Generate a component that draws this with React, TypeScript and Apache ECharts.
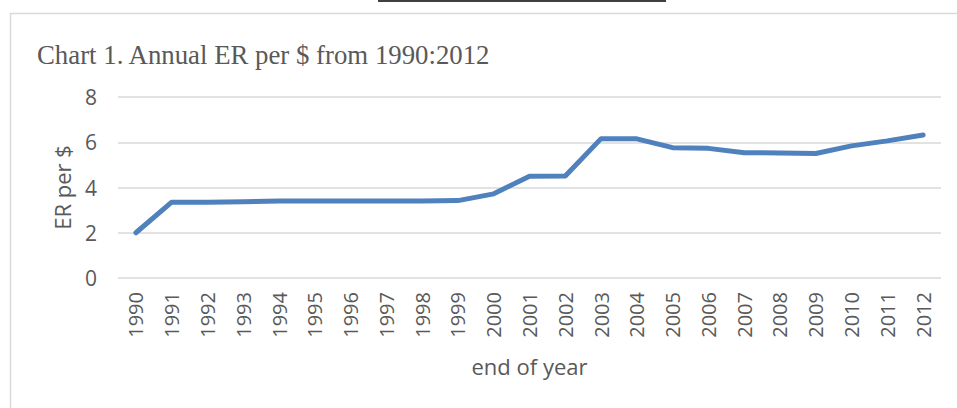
import React, { useEffect, useRef } from "react";
import * as echarts from "echarts";

const years = [
  "1990", "1991", "1992", "1993", "1994", "1995", "1996", "1997", "1998", "1999",
  "2000", "2001", "2002", "2003", "2004", "2005", "2006", "2007", "2008", "2009",
  "2010", "2011", "2012",
];
const erPerDollar = [
  2.0, 3.35, 3.35, 3.37, 3.4, 3.4, 3.4, 3.4, 3.4, 3.42,
  3.72, 4.5, 4.51, 6.16, 6.15, 5.76, 5.73, 5.54, 5.53, 5.5,
  5.84, 6.06, 6.32,
];
const yTicks = { min: 0, max: 8, interval: 2 };

const titleText = "Chart 1. Annual ER per $ from 1990:2012";
const yName = "ER per $";
const xName = "end of year";

export default function App() {
  const ref = useRef<HTMLDivElement>(null);
  useEffect(() => {
    if (!ref.current) return;
    const chart = echarts.init(ref.current, null, { renderer: "svg" });
    const sans = "'Open Sans', 'Noto Sans', sans-serif";
    chart.setOption({
      animation: false,
      backgroundColor: "#ffffff",
      title: {
        text: titleText,
        left: 32,
        top: 36,
        textStyle: {
          fontFamily: "'Liberation Serif', 'Times New Roman', serif",
          fontWeight: "normal",
          fontSize: 26.8,
          color: "#595959",
        },
      },
      graphic: [
        {
          type: "rect",
          shape: { x: 10.5, y: 13.5, width: 1000, height: 500 },
          style: { fill: "none", stroke: "#d9d9d9", lineWidth: 1.5 },
          silent: true,
          z: -10,
        },
        {
          type: "line",
          shape: { x1: 378, y1: 1, x2: 666, y2: 1 },
          style: { stroke: "#000000", lineWidth: 1.5 },
          silent: true,
        },
      ],
      grid: { left: 118, right: 16, top: 97, bottom: 130, containLabel: false },
      xAxis: {
        type: "category",
        data: years,
        boundaryGap: true,
        name: xName,
        nameLocation: "middle",
        nameGap: 77,
        nameTextStyle: { fontFamily: sans, fontSize: 22, color: "#595959" },
        axisLine: { show: false },
        axisTick: { show: false },
        axisLabel: {
          rotate: 90,
          margin: 14,
          fontFamily: sans,
          fontSize: 20,
          color: "#595959",
          interval: 0,
        },
      },
      yAxis: {
        type: "value",
        min: yTicks.min,
        max: yTicks.max,
        interval: yTicks.interval,
        name: yName,
        nameLocation: "middle",
        nameGap: 45,
        nameTextStyle: { fontFamily: sans, fontSize: 22, color: "#595959" },
        axisLine: { show: false },
        axisTick: { show: false },
        axisLabel: { margin: 21, fontFamily: sans, fontSize: 21, color: "#595959" },
        splitLine: { lineStyle: { color: "#d9d9d9", width: 1.5 } },
      },
      series: [
        {
          type: "line",
          data: erPerDollar,
          showSymbol: false,
          lineStyle: { color: "#4f81bd", width: 5, cap: "round", join: "round" },
          itemStyle: { color: "#4f81bd" },
        },
      ],
    });
    return () => chart.dispose();
  }, []);
  return (
    <div
      ref={ref}
      style={{ position: "absolute", left: 0, top: 0, width: 957, height: 408 }}
    />
  );
}
